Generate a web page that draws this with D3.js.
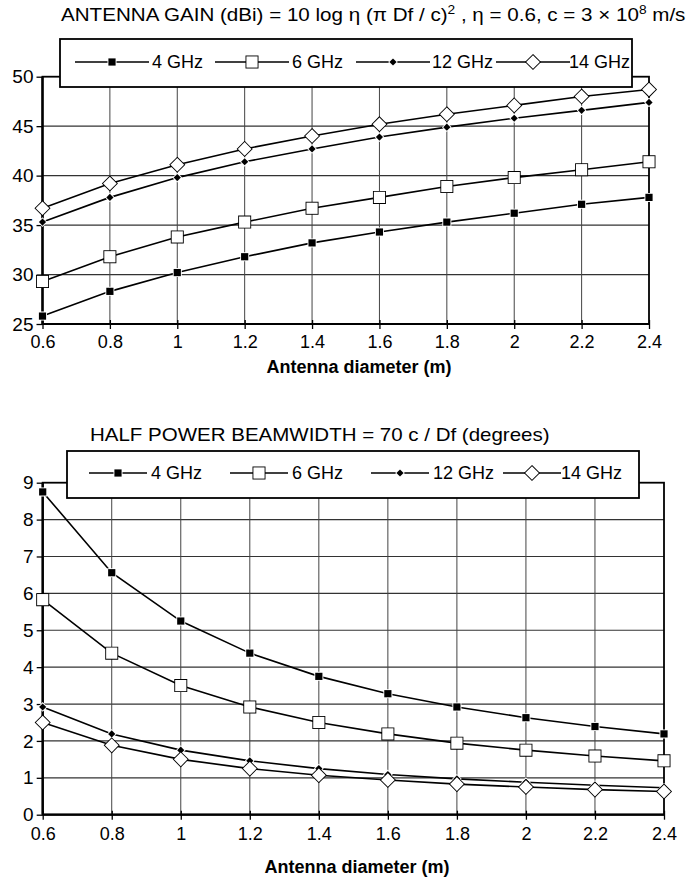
<!DOCTYPE html>
<html>
<head>
<meta charset="utf-8">
<script src="https://cdn.jsdelivr.net/npm/d3@7"></script>
<style>
  html, body { margin: 0; padding: 0; background: #fff; }
  svg { display: block; font-family: "Liberation Sans", Arial, Helvetica, sans-serif; }
</style>
</head>
<body>
<script>
// ---------------- DATA ----------------
const diameters = [0.6, 0.8, 1.0, 1.2, 1.4, 1.6, 1.8, 2.0, 2.2, 2.4];
const diameterLabels = ["0.6", "0.8", "1", "1.2", "1.4", "1.6", "1.8", "2", "2.2", "2.4"];
const seriesNames = ["4 GHz", "6 GHz", "12 GHz", "14 GHz"];

const gain4GHz  = [25.8, 28.3, 30.2, 31.8, 33.2, 34.3, 35.3, 36.2, 37.1, 37.8];
const gain6GHz  = [29.3, 31.8, 33.8, 35.3, 36.7, 37.8, 38.9, 39.8, 40.6, 41.4];
const gain12GHz = [35.3, 37.8, 39.8, 41.4, 42.7, 43.9, 44.9, 45.8, 46.6, 47.4];
const gain14GHz = [36.7, 39.2, 41.1, 42.7, 44.0, 45.2, 46.2, 47.1, 48.0, 48.7];

const beam4GHz  = [8.75, 6.56, 5.25, 4.38, 3.75, 3.28, 2.92, 2.63, 2.39, 2.19];
const beam6GHz  = [5.83, 4.38, 3.50, 2.92, 2.50, 2.19, 1.94, 1.75, 1.59, 1.46];
const beam12GHz = [2.92, 2.19, 1.75, 1.46, 1.25, 1.09, 0.97, 0.88, 0.80, 0.73];
const beam14GHz = [2.50, 1.88, 1.50, 1.25, 1.07, 0.94, 0.83, 0.75, 0.68, 0.63];

const gainTicks = [25, 30, 35, 40, 45, 50];
const beamTicks = [0, 1, 2, 3, 4, 5, 6, 7, 8, 9];
const xTitle = "Antenna diameter (m)";

// ---------------- DRAWING ----------------
const W = 689, H = 878;
const svg = d3.select("body").append("svg").attr("width", W).attr("height", H);

const markerKinds = ["filledSquare", "hollowSquare", "filledDiamond", "hollowDiamond"];
function markerPath(kind) {
  if (kind === "filledSquare") { const r = 3.6; return `M${-r},${-r}H${r}V${r}H${-r}Z`; }
  if (kind === "hollowSquare") { const r = 5.6; return `M${-r},${-r}H${r}V${r}H${-r}Z`; }
  if (kind === "filledDiamond") { const r = 3.6; return `M0,${-r}L${r},0L0,${r}L${-r},0Z`; }
  const r = 6.8; return `M0,${-r}L${r},0L0,${r}L${-r},0Z`;
}
function styleMarker(sel, kind) {
  const hollow = kind.startsWith("hollow");
  sel.attr("d", markerPath(kind))
    .attr("fill", hollow ? "#fff" : "#000")
    .attr("stroke", hollow ? "#000" : "#fff")
    .attr("stroke-width", 1.8)
    .style("paint-order", "stroke");
}

function drawChart(cfg) {
  const g = svg.append("g");
  const x = d3.scaleLinear().domain([diameters[0], diameters[diameters.length - 1]]).range([cfg.x0, cfg.x1]);
  const y = d3.scaleLinear().domain([cfg.ticks[0], cfg.ticks[cfg.ticks.length - 1]]).range([cfg.yBot, cfg.yTop]);

  // grid
  g.append("g").selectAll("line").data(cfg.ticks.slice(1, -1)).join("line")
    .attr("x1", cfg.x0).attr("x2", cfg.x1)
    .attr("y1", d => y(d)).attr("y2", d => y(d))
    .attr("stroke", "#333").attr("stroke-width", 1.2);
  g.append("g").selectAll("line").data(diameters.slice(1, -1)).join("line")
    .attr("x1", d => x(d)).attr("x2", d => x(d))
    .attr("y1", cfg.yTop).attr("y2", cfg.yBot)
    .attr("stroke", "#444").attr("stroke-width", 1);

  // axes (labels + ticks)
  const ax = g.append("g").attr("transform", `translate(0,${cfg.yBot})`)
    .call(d3.axisBottom(x).tickValues(diameters).tickFormat((d, i) => diameterLabels[i]).tickSize(5).tickPadding(cfg.xPad));
  ax.select(".domain").remove();
  ax.selectAll(".tick line").attr("stroke", "#000").attr("stroke-width", 1.3).attr("y1", -4);
  ax.selectAll("text").attr("font-size", 18).attr("fill", "#000").attr("font-family", null);

  const ay = g.append("g").attr("transform", `translate(${cfg.x0},0)`)
    .call(d3.axisLeft(y).tickValues(cfg.ticks).tickSize(6).tickPadding(3));
  ay.select(".domain").remove();
  ay.selectAll(".tick line").attr("stroke", "#000").attr("stroke-width", 1.3);
  ay.selectAll("text").attr("font-size", 19).attr("fill", "#000").attr("font-family", null);

  // frame
  g.append("rect").attr("x", cfg.x0).attr("y", cfg.yTop)
    .attr("width", cfg.x1 - cfg.x0).attr("height", cfg.yBot - cfg.yTop)
    .attr("fill", "none").attr("stroke", "#000").attr("stroke-width", 1.8);
  g.append("line").attr("x1", cfg.x0).attr("x2", cfg.x0).attr("y1", cfg.yTop).attr("y2", cfg.yBot)
    .attr("stroke", "#000").attr("stroke-width", 2.4);
  g.append("line").attr("x1", cfg.x0).attr("x2", cfg.x1).attr("y1", cfg.yBot).attr("y2", cfg.yBot)
    .attr("stroke", "#000").attr("stroke-width", 2.2);

  // series
  const line = d3.line().x((d, i) => x(diameters[i])).y(d => y(d));
  cfg.series.forEach((vals) => {
    g.append("path").datum(vals).attr("d", line)
      .attr("fill", "none").attr("stroke", "#000").attr("stroke-width", 1.6);
  });
  cfg.series.forEach((vals, si) => {
    g.append("g").selectAll("path").data(vals).join("path")
      .attr("transform", (d, i) => `translate(${x(diameters[i])},${y(d)})`)
      .call(styleMarker, markerKinds[si]);
  });

  // legend
  const lg = g.append("g");
  lg.append("rect").attr("x", cfg.lx0).attr("y", cfg.ly0)
    .attr("width", cfg.lx1 - cfg.lx0).attr("height", cfg.ly1 - cfg.ly0)
    .attr("fill", "#fff").attr("stroke", "#000").attr("stroke-width", 1.8);
  const ly = cfg.ly0 + cfg.legendDy;
  seriesNames.forEach((name, si) => {
    const mx = cfg.markerX[si];
    lg.append("line").attr("x1", mx - cfg.lineHalf).attr("x2", mx + cfg.lineHalf)
      .attr("y1", ly).attr("y2", ly).attr("stroke", "#000").attr("stroke-width", 1.4);
    lg.append("path").attr("transform", `translate(${mx},${ly})`).call(styleMarker, markerKinds[si]);
    lg.append("text").attr("x", cfg.textX[si]).attr("y", ly).attr("dy", "0.36em")
      .attr("font-size", 18).text(name);
  });

  // x title
  g.append("text").attr("x", cfg.xTitleX).attr("y", cfg.xTitleY)
    .attr("text-anchor", "middle").attr("font-size", 18).attr("font-weight", "bold").text(xTitle);

  return g;
}

function fitTitle(build, x0, width, baseline) {
  const t = svg.append("text").attr("x", 0).attr("y", 0).attr("font-size", 18);
  build(t);
  const w = t.node().getComputedTextLength();
  t.attr("transform", `translate(${x0},${baseline}) scale(${width / w},1)`);
}

// ---- Chart 1: Antenna gain ----
drawChart({
  x0: 42.5, x1: 649, yTop: 76.7, yBot: 324, xPad: 6,
  ticks: gainTicks,
  series: [gain4GHz, gain6GHz, gain12GHz, gain14GHz],
  lx0: 60, lx1: 632, ly0: 39, ly1: 87, legendDy: 23,
  markerX: [112, 252, 393, 533], textX: [152, 292, 432, 569], lineHalf: 37,
  xTitleX: 359, xTitleY: 373
});
fitTitle(t => {
  t.append("tspan").text("ANTENNA GAIN (dBi) = 10 log \u03B7 (\u03C0 Df / c)");
  t.append("tspan").attr("font-size", 12).attr("dy", -7).text("2");
  t.append("tspan").attr("dy", 7).text(" , \u03B7 = 0.6, c = 3 \u00D7 10");
  t.append("tspan").attr("font-size", 12).attr("dy", -7).text("8");
  t.append("tspan").attr("dy", 7).text(" m/s");
}, 61, 625, 21);

// ---- Chart 2: Half power beamwidth ----
drawChart({
  x0: 42.7, x1: 664, yTop: 482.7, yBot: 814.7, xPad: 8,
  ticks: beamTicks,
  series: [beam4GHz, beam6GHz, beam12GHz, beam14GHz],
  lx0: 67, lx1: 639, ly0: 451, ly1: 498, legendDy: 22,
  markerX: [118, 259, 400, 532], textX: [151, 292, 433, 561], lineHalf: 29,
  xTitleX: 357, xTitleY: 873
});
fitTitle(t => {
  t.append("tspan").text("HALF POWER BEAMWIDTH = 70 c / Df (degrees)");
}, 90, 460, 441);
</script>
</body>
</html>
